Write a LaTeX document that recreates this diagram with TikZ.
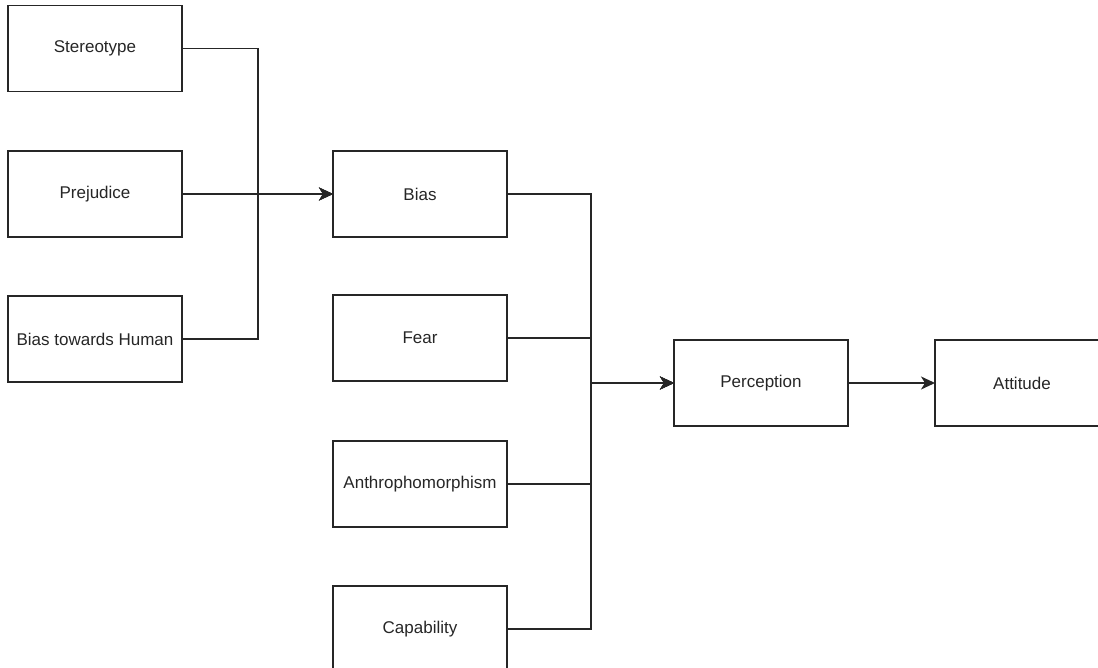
\documentclass[tikz,border=0pt]{standalone}
\usepackage{fontspec}
\setmainfont{Liberation Sans}
\usetikzlibrary{arrows.meta}
\begin{document}
\begin{tikzpicture}[x=1pt,y=-1pt,
  box/.style={draw=black!85, line width=1.7pt, minimum width=174pt, minimum height=86pt, inner sep=0pt, outer sep=0pt, text=black!85, font=\fontsize{17}{20}\selectfont, anchor=north west},
  conn/.style={draw=black!85, line width=1.7pt},
  arr/.style={conn, -{Stealth[length=14pt,width=13pt,inset=4pt]}}]
\useasboundingbox (0,0) rectangle (1098,668);
\begin{scope}
\clip (0,0) rectangle (1098,668);
\node[box] (ster) at (8,5.5) {Stereotype};
\node[box] (prej) at (8,151) {Prejudice};
\node[box] (bth) at (8,296) {Bias towards Human};
\node[box] (bias) at (333,151) {Bias};
\node[box] (fear) at (333,295) {Fear};
\node[box] (anth) at (333,441) {Anthrophomorphism};
\node[box] (cap) at (333,586) {Capability};
\node[box] (perc) at (674,340) {Perception};
\node[box] (att) at (935,340) {Attitude};
\coordinate (j1) at (258,194);
\coordinate (j2) at (591,383);
\draw[arr] (ster.east) -| (j1) -- (bias.west);
\draw[arr] (bth.east) -| (j1) -- (bias.west);
\draw[arr] (prej.east) -- (bias.west);
\draw[arr] (bias.east) -| (j2) -- (perc.west);
\draw[arr] (fear.east) -| (j2) -- (perc.west);
\draw[arr] (anth.east) -| (j2) -- (perc.west);
\draw[arr] (cap.east) -| (j2) -- (perc.west);
\draw[arr] (perc.east) -- (att.west);
\end{scope}
\end{tikzpicture}
\end{document}
